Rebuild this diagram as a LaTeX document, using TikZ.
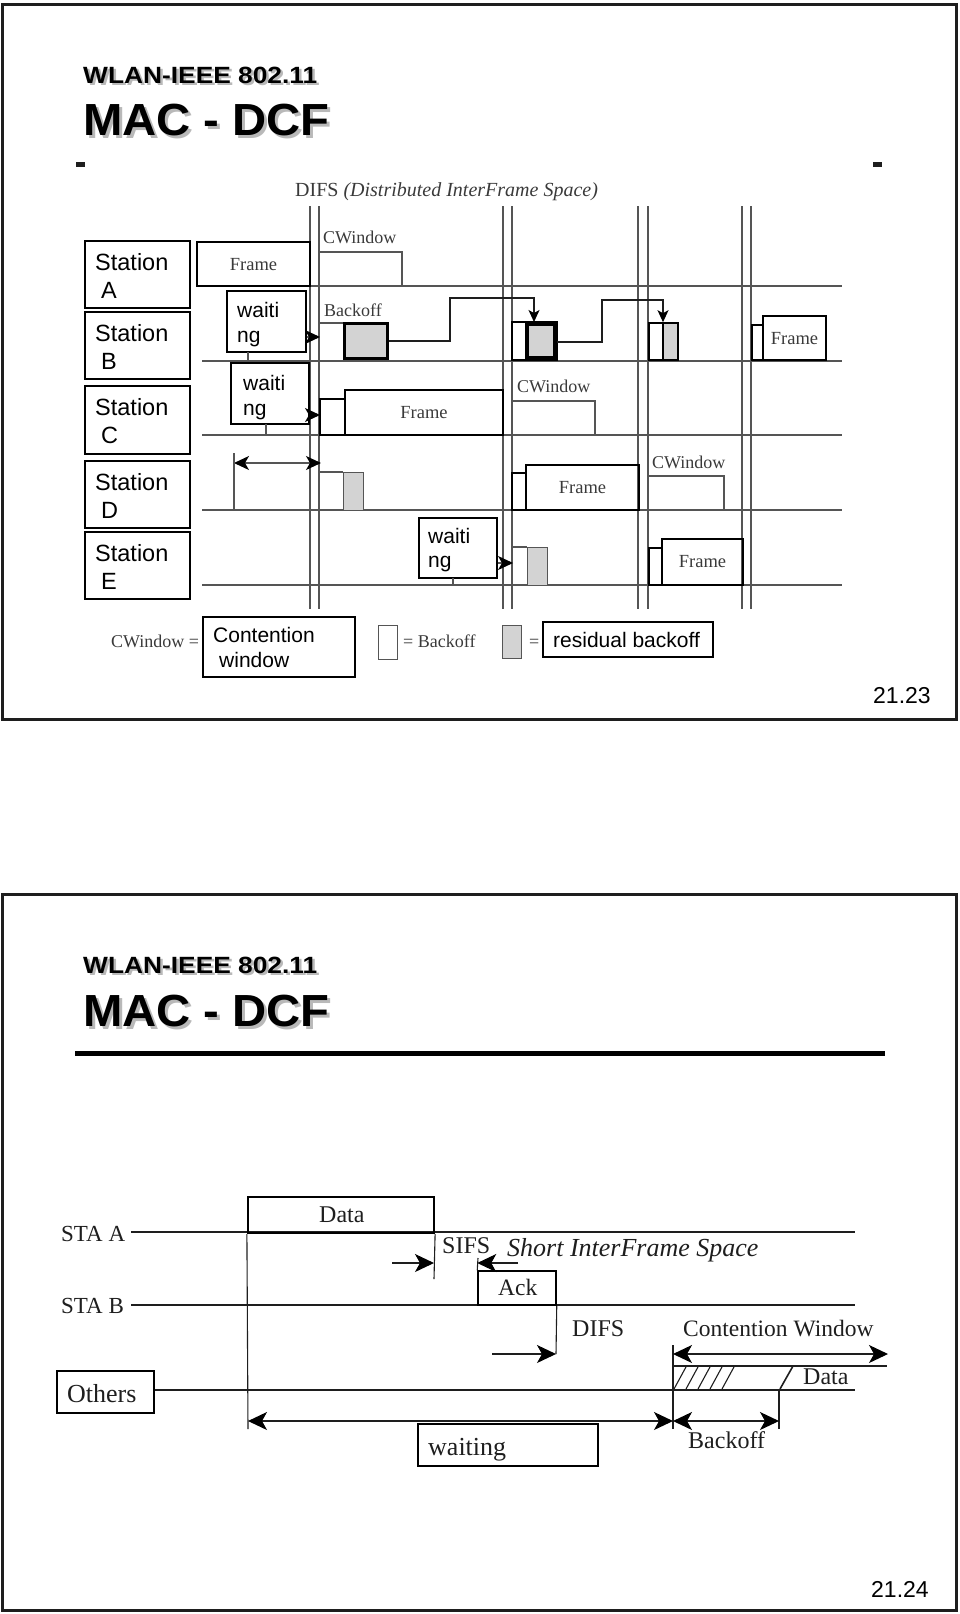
\documentclass[tikz,border=0pt]{standalone}
\usepackage{fontspec}
\setmainfont{Liberation Serif}
\newfontfamily\arialf{Liberation Sans}
\usetikzlibrary{arrows.meta,fit}
\definecolor{lg}{HTML}{555555}
\definecolor{tg}{HTML}{3A3A3A}
\definecolor{dk}{HTML}{1E1E1E}
\definecolor{bf}{HTML}{D3D3D3}
\newcommand\fs[1]{\fontsize{#1}{#1}\selectfont}
\tikzset{
  frameline/.style={draw=dk, line width=2.4pt},
  gl/.style={draw=lg, line width=1.1pt},
  bx/.style={draw=black, line width=1.6pt, inner sep=0pt},
  bxthick/.style={draw=black, line width=3pt, inner sep=0pt},
  txt/.style={anchor=base west, inner sep=0pt},
  st/.style={txt, font=\arialf\fs{23.5}},
  wt/.style={txt, font=\arialf\fs{21}},
  sl/.style={txt, font=\fs{18}, text=tg},
  fr/.style={anchor=base, inner sep=0pt, font=\fs{18.5}, text=tg},
  tt/.style={txt, font=\fs{24}, text=dk},
  tipS/.tip={Stealth[length=15pt,width=14pt,inset=4pt,color=black]},
  tipB/.tip={Stealth[length=19pt,width=18pt,inset=5pt,color=black]},
  arr/.style={gl, -tipS},
  darr/.style={gl, tipS-tipS},
  arrb/.style={draw=dk, line width=1.1pt, -tipB},
  darrb/.style={draw=dk, line width=1.1pt, tipB-tipB},
  tl/.style={draw=dk, line width=1.1pt},
  shadow/.style={text=gray!55},
}
\begin{document}
\begin{tikzpicture}[x=1pt,y=-1pt]
\useasboundingbox (0,0) rectangle (960,1614);
% ================= SLIDE 1 =================
\draw[frameline] (2.5,4.5) rectangle (956.5,719.5);
\node[txt, shadow, font=\arialf\bfseries\fs{23.5}] at (85.5,85.5) {\scalebox{1.12}[1]{WLAN-IEEE 802.11}};
\node[txt, font=\arialf\bfseries\fs{23.5}] (t1a) at (83,83) {\scalebox{1.12}[1]{WLAN-IEEE 802.11}};
\node[txt, shadow, font=\arialf\bfseries\fs{45}] at (86,138) {\scalebox{1.05}[1]{MAC - DCF}};
\node[txt, font=\arialf\bfseries\fs{45}] (t1b) at (83,135) {\scalebox{1.05}[1]{MAC - DCF}};
\fill[dk] (76,162) rectangle (85,167);
\fill[dk] (873,162) rectangle (882,167);
\node[txt, font=\fs{20}, text=tg] (difs) at (295,196) {DIFS \textit{(Distributed InterFrame Space)}};
% vertical lines
\foreach \x in {310,319,503,512,638,648,742,751} \draw[gl] (\x,206) -- (\x,609);
% station baselines
\foreach \y in {286,361,435,510,585} \draw[gl] (202,\y) -- (842,\y);
% station boxes
\node[bx, fit={(85,241) (190,308)}] (sA) {};
\node[bx, fit={(85,312) (190,379)}] (sB) {};
\node[bx, fit={(85,386) (190,454)}] (sC) {};
\node[bx, fit={(85,461) (190,528)}] (sD) {};
\node[bx, fit={(85,532) (190,599)}] (sE) {};
\node[st] at (95,270) {Station}; \node[st] at (101,298) {A};
\node[st] at (95,341) {Station}; \node[st] at (101,369) {B};
\node[st] at (95,415) {Station}; \node[st] at (101,443) {C};
\node[st] at (95,490) {Station}; \node[st] at (101,518) {D};
\node[st] at (95,561) {Station}; \node[st] at (101,589) {E};
% ---- row A
\node[bx, fit={(197,242) (310,286)}] (fA) {};
\node[fr] at (253.5,270) {Frame};
\node[sl] (cwA) at (323,243) {CWindow};
\draw[gl] (319,252) -- (402,252) -- (402,286);
% ---- row B
\node[bx, fit={(227,291) (306,352)}] (w1) {};
\node[wt] at (237,317) {waiti}; \node[wt] at (237,342) {ng};
\draw[gl] (248,352) -- (248,361);
\coordinate (w1t) at (320,337);
\draw[arr] (w1.east |- w1t) -- (w1t);
\node[sl] (boL) at (324,316) {Backoff};
\draw[gl] (319,323) -- (343,323);
\node[bxthick, fit={(344.5,323.5) (387.5,358.5)}, fill=bf] (bo1) {};
\draw[bx] (512,322) rectangle (557,360);
\node[draw=black, line width=4pt, inner sep=0pt, fit={(527,324) (555,358)}, fill=bf] (bo2) {};
\coordinate (c1a) at (450,341); \coordinate (c1b) at (534,298);
\draw[tl, -{Stealth[length=12pt,width=11pt,inset=3pt,color=black]}] (bo1.east |- c1a) -- (c1a) -- (c1a |- c1b) -- (c1b) -- (c1b |- bo2.north);
\draw[bx, fill=white] (649,323) rectangle (678,360);
\node[draw=black, line width=1.6pt, inner sep=0pt, fit={(663,323) (678,360)}, fill=bf] (bo3) {};
\coordinate (c2a) at (602,342); \coordinate (c2b) at (663,300);
\draw[tl, -{Stealth[length=12pt,width=11pt,inset=3pt,color=black]}] (557,342) -- (c2a) -- (c2a |- c2b) -- (c2b) -- (c2b |- bo3.north);
\node[bx, fit={(752,325) (763,360)}] (fBs) {};
\node[bx, fit={(763,316) (826,360)}] (fB) {};
\node[fr] at (794.5,344) {Frame};
% ---- row C
\node[bx, fit={(231,363) (309,424)}] (w2) {};
\node[wt] at (243,390) {waiti}; \node[wt] at (243,415) {ng};
\draw[gl] (266,424) -- (266,435);
\coordinate (w2t) at (320,415);
\draw[arr] (w2.east |- w2t) -- (w2t);
\node[bx, fit={(320,399) (345,435)}] (fCs) {};
\node[bx, fit={(345,390) (503,435)}] (fC) {};
\node[fr] at (424,418) {Frame};
\node[sl] (cwC) at (517,392) {CWindow};
\draw[gl] (512,401) -- (595,401) -- (595,435);
% ---- row D
\coordinate (dL) at (234,463); \coordinate (dR) at (321,463);
\draw[darr] (dL) -- (dR);
\draw[gl] (234,453) -- (234,510);
\draw[gl] (320,472) -- (343,472);
\node[draw=lg, line width=0.8pt, fill=bf, inner sep=0pt, fit={(343,472) (363,510)}] (rD) {};
\node[bx, fit={(512,473) (526,510)}] (fDs) {};
\node[bx, fit={(526,465) (639,510)}] (fD) {};
\node[fr] at (582.5,493) {Frame};
\node[sl] (cwD) at (652,468) {CWindow};
\draw[gl] (648,476) -- (724,476) -- (724,510);
% ---- row E
\node[bx, fit={(419,518) (497,578)}] (w3) {};
\node[wt] at (428,543) {waiti}; \node[wt] at (428,567) {ng};
\draw[gl] (453,578) -- (453,585);
\coordinate (w3t) at (513,563);
\draw[arr] (w3.east |- w3t) -- (w3t);
\draw[gl] (512,547) -- (527,547);
\node[draw=lg, line width=0.8pt, fill=bf, inner sep=0pt, fit={(527,547) (547,585)}] (rE) {};
\node[bx, fit={(649,548) (662,585)}] (fEs) {};
\node[bx, fit={(662,539) (743,585)}] (fE) {};
\node[fr] at (702.5,567) {Frame};
% ---- legend
\node[sl] (lg1) at (111,647) {CWindow =};
\node[bx, fit={(203,617) (355,677)}] (lcw) {};
\node[wt] at (213,642) {Contention}; \node[wt] at (219,667) {window};
\node[draw=lg, line width=0.8pt, inner sep=0pt, fit={(378,625) (397,659)}] (lbo) {};
\node[sl] (lg2) at (403,647) {= Backoff};
\node[draw=lg, line width=0.8pt, fill=bf, inner sep=0pt, fit={(502,625) (521,658)}] (lrb) {};
\node[sl] (lg3) at (529,647) {=};
\node[bx, fit={(543,622) (713,657)}] (lres) {};
\node[wt] at (553,647) {residual backoff};
\node[txt, font=\arialf\fs{23}] (p1) at (873,703) {21.23};
% ================= SLIDE 2 =================
\draw[frameline] (2.5,894.5) rectangle (956.5,1610.5);
\node[txt, shadow, font=\arialf\bfseries\fs{23.5}] at (85.5,975.5) {\scalebox{1.12}[1]{WLAN-IEEE 802.11}};
\node[txt, font=\arialf\bfseries\fs{23.5}] (t2a) at (83,973) {\scalebox{1.12}[1]{WLAN-IEEE 802.11}};
\node[txt, shadow, font=\arialf\bfseries\fs{45}] at (86,1029) {\scalebox{1.05}[1]{MAC - DCF}};
\node[txt, font=\arialf\bfseries\fs{45}] (t2b) at (83,1026) {\scalebox{1.05}[1]{MAC - DCF}};
\draw[draw=black, line width=5pt] (75,1053.5) -- (885,1053.5);
% lines
\node[tt, font=\fs{23}] (staA) at (61,1241) {STA A};
\node[tt, font=\fs{23}] (staB) at (61,1313) {STA B};
\node[bx, line width=1.4pt, fit={(57,1371) (154,1413)}] (oth) {};
\node[tt, font=\fs{26}] at (67,1402) {Others};
\coordinate (othE) at (855,1390);
\draw[tl] (131,1232) -- (855,1232);
\draw[tl] (131,1305) -- (855,1305);
\draw[tl] (oth.east |- othE) -- (othE);
% data
\node[bx, line width=2.2pt, fit={(248,1197) (434,1233)}] (data) {};
\node[tt, font=\fs{24}] at (319,1222) {Data};
\draw[tl] (data.south west) -- (248,1429);
\draw[tl] (data.south east) -- (434,1279);
\coordinate (sifsL) at (392,1263); \coordinate (sifsR) at (434,1263);
\draw[arrb] (sifsL) -- (sifsR);
\node[tt, font=\fs{24}] (sifs) at (442,1253) {SIFS};
\node[tt, font=\fs{26}] (sifsT) at (507,1256) {\textit{Short InterFrame Space}};
% ack
\node[bx, line width=1.5pt, fit={(478,1271) (556,1305)}] (ack) {};
\node[tt, font=\fs{23.5}] at (498,1295) {Ack};
\draw[tl] (ack.north west) -- (478,1258);
\coordinate (ackA) at (518,1263);
\draw[arrb] (ackA) -- (ack.north west |- ackA);
% difs
\draw[tl] (ack.south east) -- (556,1354);
\coordinate (difsL) at (492,1354); \coordinate (difsR) at (556,1354);
\draw[arrb] (difsL) -- (difsR);
\node[tt, font=\fs{24}] (difs2) at (572,1336) {DIFS};
% contention window
\coordinate (cwL) at (673,1354); \coordinate (cwR) at (888,1354);
\draw[tl] (673,1345) -- (673,1429);
\draw[darrb] (cwL) -- (cwR);
\node[tt, font=\fs{23.5}] (cwT) at (683,1336) {Contention Window};
\draw[tl] (673,1366) -- (793,1366);
\foreach \b in {674,686,698,710,722} \draw[tl] (\b,1389) -- (\b+12.5,1366);
\draw[draw=dk, line width=1.6pt] (780,1389) -- (793,1366);
\draw[draw=dk, line width=2.6pt] (793,1366) -- (887,1366);
\node[tt, font=\fs{24}] (dataR) at (803,1384) {Data};
\draw[tl] (779,1389) -- (779,1429);
% bottom arrows
\coordinate (wL) at (248,1421); \coordinate (wR) at (673,1421); \coordinate (bR) at (779,1421);
\draw[darrb] (wL) -- (wR);
\draw[darrb] (wR) -- (bR);
\node[tt, font=\fs{24}] (bo) at (688,1448) {Backoff};
\node[bx, line width=1.5pt, fit={(418,1424) (598,1466)}] (wait) {};
\node[tt, font=\fs{26}] at (428,1455) {waiting};
\node[txt, font=\arialf\fs{23}] (p2) at (871,1597) {21.24};
\end{tikzpicture}
\end{document}
